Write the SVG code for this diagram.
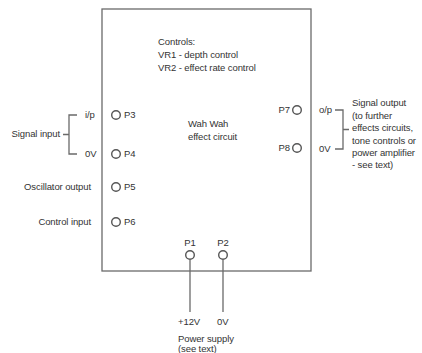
<svg xmlns="http://www.w3.org/2000/svg" width="422" height="353" viewBox="0 0 422 353">
<style>
text{font-family:"Liberation Sans",Arial,sans-serif;font-size:9.5px;fill:#333;letter-spacing:-0.1px}
.ln{stroke:#6a6a6a;stroke-width:1.3;fill:none}
.pin{stroke:#555;stroke-width:1.4;fill:#fff}
.e{text-anchor:end}
.m{text-anchor:middle}
</style>
<rect width="422" height="353" fill="#fff"/>
<g id="circuit">
<rect class="ln" x="102" y="9" width="209" height="262"/>
<text x="158" y="45">Controls:</text>
<text x="158" y="58">VR1 - depth control</text>
<text x="158" y="71">VR2 - effect rate control</text>
<text x="188" y="127">Wah Wah</text>
<text x="188" y="140">effect circuit</text>
</g>
<g id="p3"><circle class="pin" cx="116" cy="115" r="4.3"/><text x="124" y="118">P3</text></g>
<g id="p4"><circle class="pin" cx="116" cy="154" r="4.3"/><text x="124" y="157">P4</text></g>
<g id="p5"><circle class="pin" cx="116" cy="187" r="4.3"/><text x="124" y="190">P5</text></g>
<g id="p6"><circle class="pin" cx="116" cy="222" r="4.3"/><text x="124" y="225">P6</text></g>
<g id="p7"><circle class="pin" cx="297" cy="110" r="4.3"/><text class="e" x="290" y="113">P7</text></g>
<g id="p8"><circle class="pin" cx="297" cy="148" r="4.3"/><text class="e" x="290" y="151">P8</text></g>
<g id="p1"><circle class="pin" cx="190" cy="255" r="4.3"/><text class="m" x="190" y="246">P1</text></g>
<g id="p2"><circle class="pin" cx="223" cy="255" r="4.3"/><text class="m" x="223" y="246">P2</text></g>
<g id="signal-input">
<text x="85" y="118">i/p</text>
<text x="85" y="157">0V</text>
<text class="e" x="60" y="137">Signal input</text>
</g>
<g id="oscillator-output"><text class="e" x="91" y="190">Oscillator output</text></g>
<g id="control-input"><text class="e" x="91" y="225">Control input</text></g>
<g id="signal-output">
<text x="319" y="113">o/p</text>
<text x="319" y="152">0V</text>
<text x="352" y="106">Signal output</text>
<text x="352" y="119">(to further</text>
<text x="352" y="131">effects circuits,</text>
<text x="352" y="144">tone controls or</text>
<text x="352" y="156">power amplifier</text>
<text x="352" y="168">- see text)</text>
</g>
<g id="power-supply">
<text x="178" y="325">+12V</text>
<text x="217" y="325">0V</text>
<text x="178" y="342">Power supply</text>
<text x="178" y="352">(see text)</text>
</g>
<g id="connectors">
<path class="ln" d="M77 115H69V154H77M69 134.5H63"/>
<path class="ln" d="M335 110H343V149H335M343 129.5H349"/>
<path class="ln" d="M190 259.3V312M223 259.3V312"/>
</g>
</svg>
